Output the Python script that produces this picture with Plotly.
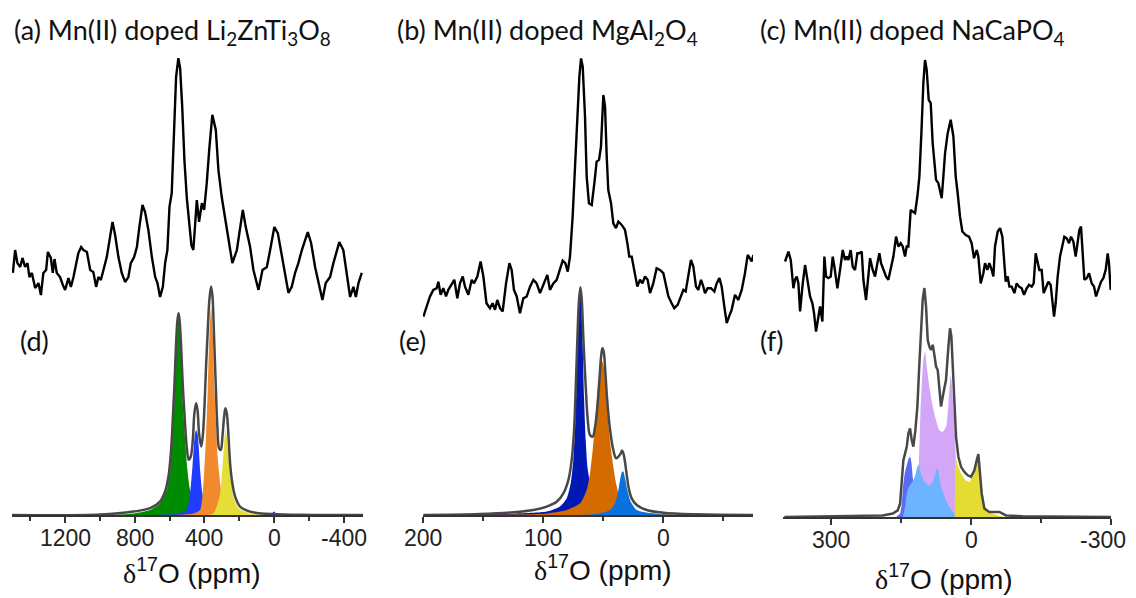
import plotly.graph_objects as go

# (a) top spectrum, Li2ZnTi3O8
a_ppm = [1500, 1487, 1474, 1458, 1445, 1430, 1416, 1405, 1391, 1372,
         1353, 1339, 1325, 1309, 1299, 1282, 1271, 1261, 1248, 1229,
         1213, 1200, 1181, 1167, 1152, 1137, 1124, 1108, 1095, 1075,
         1056, 1038, 1022, 1009, 995, 980, 961, 942, 928, 913,
         894, 875, 856, 837, 823, 804, 788, 774, 756, 741,
         722, 702, 683, 670, 655, 639, 626, 613, 601, 588,
         574, 563, 550, 540, 528, 515, 501, 488, 475, 464,
         444, 431, 415, 402, 387, 373, 355, 335, 320, 301,
         282, 263, 240, 214, 195, 180, 163, 138, 119, 90,
         67, 42, 23, -1, -21, -44, -63, -82, -101, -120,
         -139, -159, -193, -212, -235, -254, -277, -296, -321, -340,
         -360, -374, -397, -417, -436, -455, -469, -484, -503]
a_int = [20.9, 29.3, 24.5, 23.1, 26.4, 23.1, 24.5, 19.4, 20.9, 15.4,
         17.2, 12.8, 20.9, 22.0, 28.6, 26.4, 20.9, 26.0, 20.9, 19.4,
         16.5, 14.7, 19.0, 15.8, 19.4, 24.5, 28.2, 30.4, 29.3, 28.6,
         22.0, 21.2, 15.8, 19.4, 18.3, 22.0, 26.7, 34.1, 39.6, 34.8,
         26.7, 20.9, 17.6, 19.4, 24.5, 26.7, 30.4, 37.7, 45.8, 43.2,
         36.6, 26.7, 19.4, 17.2, 12.1, 15.8, 24.5, 29.3, 45.1, 50.2,
         72.2, 92.7, 99.6, 96.0, 82.0, 62.0, 48.0, 38.0, 31.0, 29.3,
         47.6, 39.6, 46.5, 44.0, 53.8, 65.9, 78.8, 73.3, 58.6, 48.7,
         41.4, 33.0, 24.5, 29.3, 36.6, 44.0, 37.7, 30.4, 22.0, 14.7,
         22.0, 23.1, 29.3, 37.7, 35.5, 26.7, 19.4, 13.6, 15.8, 20.9,
         24.5, 29.3, 35.9, 31.9, 23.1, 17.2, 11.0, 17.2, 19.4, 24.5,
         29.3, 32.2, 29.3, 19.4, 12.1, 15.8, 12.1, 17.2, 20.9]

# (b) top spectrum, MgAl2O4
b_ppm = [199.7, 196.9, 194.2, 191.4, 188.6, 187.2, 185.3, 183.1, 180.8, 178.9,
         176.1, 173.9, 171.4, 169.2, 166.9, 165.0, 162.2, 159.4, 157.5, 154.7,
         152.0, 149.7, 147.1, 144.2, 142.0, 140.0, 138.1, 135.8, 133.6, 130.8,
         128.0, 126.1, 124.2, 121.9, 119.2, 116.4, 113.6, 110.8, 108.0, 105.3,
         102.5, 99.2, 96.4, 94.2, 91.4, 88.6, 85.8, 83.6, 81.4, 79.4,
         77.5, 75.3, 73.3, 71.4, 69.7, 68.3, 66.9, 65.0,
         63.6, 61.7, 59.4, 57.2, 55.3, 53.3, 51.7, 49.7, 48.3, 46.9,
         45.6, 43.3, 41.4, 39.2, 37.2, 34.4, 31.7, 29.7, 28.1, 26.1,
         23.9, 21.4, 19.2, 17.2, 15.0, 12.8, 10.8, 8.1, 5.3, 2.5,
         -0.3, -2.5, -4.5, -7.2, -9.4, -12.2, -15.0, -17.0, -18.9, -21.1,
         -23.3, -25.3, -27.5, -29.4, -31.7, -33.6, -35.0, -37.2, -40.0, -42.8,
         -44.7, -47.0, -48.9, -51.1, -53.1, -55.0, -57.2, -60.0, -62.8, -65.6,
         -68.3, -70.6, -72.5, -73.9, -75.3]
b_int = [4.9, 8.6, 12.3, 14.7, 15.3, 17.7, 12.9, 15.3, 12.3, 14.7,
         17.1, 18.4, 11.6, 17.1, 19.6, 15.9, 12.9, 18.4, 17.1, 19.6,
         25.1, 19.6, 9.8, 8.0, 9.8, 7.4, 11.0, 8.0, 6.8, 17.1,
         24.5, 22.0, 14.7, 12.3, 6.1, 11.6, 12.3, 15.9, 18.4, 17.1,
         13.5, 17.1, 20.2, 14.7, 17.1, 18.4, 22.0, 25.4, 24.5, 21.4,
         26.9, 41.5, 59.9, 78.2, 92.8, 99.5, 96.5, 78.2,
         56.2, 46.4, 45.8, 53.8, 61.7, 62.3, 67.2, 86.1, 81.8, 63.5,
         51.3, 46.4, 39.1, 37.3, 39.7, 38.5, 36.7, 31.8, 26.9, 26.9,
         22.0, 15.9, 18.4, 17.1, 19.6, 18.4, 13.5, 17.1, 22.6, 22.0,
         20.8, 15.9, 12.3, 9.8, 8.0, 9.2, 12.9, 14.7, 14.1, 20.8,
         25.7, 23.2, 15.9, 14.7, 18.4, 15.9, 13.5, 15.3, 15.3, 14.1,
         17.1, 19.0, 15.9, 8.6, 2.5, 4.9, 7.4, 12.9, 11.0, 14.7,
         20.8, 27.5, 26.3, 25.1, 27.5]

# (c) top spectrum, NaCaPO4
c_ppm = [398.6, 391.4, 386.4, 380.7, 377.2, 373.6, 370.0, 366.4, 360.7, 355.7,
         350.7, 345.0, 340.0, 336.4, 332.2, 327.2, 323.6, 318.6, 314.3, 310.7,
         305.7, 300.7, 296.4, 292.9, 286.4, 280.7, 275.0, 270.0, 266.4, 262.9,
         257.9, 253.6, 248.6, 243.6, 239.3, 234.3, 230.7, 225.0, 221.4, 216.4,
         210.7, 205.7, 200.7, 196.4, 192.9, 187.9, 182.2, 177.2, 172.2, 166.4,
         160.7, 155.7, 150.7, 146.4, 141.4, 137.9, 134.3, 129.3, 125.0, 120.0,
         115.0, 110.7, 106.4, 102.2, 98.6, 95.0, 90.7, 86.4, 82.2, 78.6,
         75.0, 70.0, 66.4, 62.9, 59.3, 55.7,
         50.0, 43.6, 37.8, 32.8, 28.6, 23.6, 18.6, 11.4, 4.3, -1.4,
         -6.4, -12.2, -15.7, -20.7, -26.4, -30.0, -35.0, -39.3, -44.3, -47.9,
         -51.4, -57.2, -62.2, -67.2, -71.4, -74.3, -78.6, -82.2, -87.2, -92.9,
         -97.9, -102.9, -108.6, -113.6, -119.3, -124.3, -130.0, -134.3, -138.6, -142.9,
         -146.4, -151.4, -155.7, -160.0, -165.7, -170.7, -174.3, -177.9, -181.4, -185.7,
         -190.7, -195.7, -200.0, -205.0, -210.0, -214.3, -219.3, -224.3, -228.6, -232.2,
         -235.7, -239.3, -242.9, -247.9, -252.9, -258.6, -263.6, -267.9, -272.9, -278.6,
         -283.6, -288.6, -292.9, -295.7, -299.3]
c_int = [25.1, 28.7, 25.7, 15.3, 18.4, 19.6, 17.1, 6.8, 17.1, 23.8,
         18.4, 12.3, 9.8, 6.1, -0.6, 4.9, 8.6, 3.1, 26.9, 19.6,
         19.0, 19.6, 26.9, 23.2, 15.3, 22.0, 29.3, 25.7, 26.9, 25.7,
         29.3, 23.2, 22.0, 28.1, 28.1, 28.7, 18.4, 11.0, 17.1, 26.3,
         22.0, 19.6, 24.5, 28.1, 24.5, 22.0, 19.6, 18.4, 22.0, 26.9,
         34.2, 30.6, 31.8, 30.6, 26.9, 30.6, 30.6, 44.0, 43.4, 42.8,
         48.9, 56.2, 72.1, 90.4, 98.9, 95.3, 84.3, 83.1, 68.4, 61.1,
         55.0, 53.8, 51.3, 48.3, 56.2, 64.7,
         72.1, 77.0, 70.9, 56.2, 50.1, 41.5, 36.1, 34.8, 34.2, 31.8,
         26.3, 29.3, 26.9, 17.1, 20.8, 24.5, 22.0, 24.5, 22.0, 19.6,
         30.6, 36.1, 37.3, 34.2, 24.5, 17.7, 19.6, 15.9, 15.9, 13.5,
         17.1, 15.9, 15.3, 12.9, 15.3, 16.5, 15.9, 17.1, 28.1, 24.5,
         22.0, 22.0, 13.5, 15.3, 17.7, 16.5, 9.8, 4.9, 9.8, 19.6,
         26.9, 30.6, 34.2, 33.6, 31.8, 34.2, 32.4, 26.9, 31.8, 36.7,
         37.9, 29.3, 18.4, 19.0, 20.8, 17.1, 15.9, 12.3, 14.7, 17.7,
         19.0, 22.0, 28.1, 24.5, 14.7]

# (d) fit, Li2ZnTi3O8
d_total_ppm = [1506, 999, 808, 712, 655, 626, 607, 593, 582, 572, 563, 555, 549, 544, 534,
               525, 513, 502, 490, 479, 467, 458, 448, 440, 431, 419, 410, 400, 391, 381,
               372, 362, 354, 345, 335, 326, 316, 306, 297, 287, 280, 272, 262, 253, 240,
               224, 196, 138, 43, -149, -512]
d_total = [0, 0.2, 1.5, 3.0, 5.9, 10.3, 16.8, 27.1, 41.7, 57.8, 75.3, 85.6, 88.5, 86.3, 73.9,
           57.8, 41.7, 30.0, 24.2, 25.6, 32.9, 44.6, 49.0, 46.1, 35.8, 30.0, 34.4, 47.5, 65.1, 81.2,
           94.3, 100.2, 95.8, 78.2, 56.3, 38.8, 29.3, 28.5, 34.4, 43.2, 46.8, 44.6, 34.4, 22.7, 13.9,
           8.1, 3.7, 1.5, 0.5, 0.1, 0]
d_green_ppm = [942, 808, 712, 655, 616, 597, 584, 574, 565, 557, 549, 542, 532, 523, 511,
               498, 483, 454, 406, 310, 138]
d_green = [0, 0.7, 2.2, 5.1, 11.0, 19.7, 32.9, 47.5, 66.5, 81.2, 87.7, 81.2, 66.5, 47.5, 32.9,
           19.7, 11.0, 5.1, 2.2, 0.7, 0]
d_blue_ppm = [712, 540, 502, 483, 469, 460, 454, 448, 440, 433, 425, 412, 387, 329, 234,
              43, 14, 0, -15, -53]
d_blue = [0, 0.7, 2.2, 9.5, 21.2, 31.5, 35.8, 37.3, 35.8, 30.0, 19.7, 9.5, 3.0, 0.7, 0.2,
          0, 0.7, 1.5, 0.4, 0]
d_orange_ppm = [578, 463, 425, 412, 402, 391, 381, 372, 362, 352, 343, 333, 326, 316, 301,
                272, 196, 43]
d_orange = [0, 0.7, 2.2, 8.1, 18.3, 34.4, 54.9, 78.2, 91.4, 78.2, 54.9, 38.8, 27.1, 18.3, 9.5,
            3.7, 0.7, 0]
d_yellow_ppm = [387, 349, 330, 310, 297, 287, 280, 272, 262, 249, 234, 205, 138, 43]
d_yellow = [0, 0.7, 3.7, 9.5, 21.2, 31.5, 37.3, 34.4, 25.6, 15.4, 8.1, 3.0, 0.7, 0]

# (e) fit, MgAl2O4
e_total_ppm = [199.7, 152.5, 124.7, 108.0, 96.9, 88.6, 83.0, 78.8, 76.1, 74.1, 72.5, 71.1, 70.0,
               68.8, 67.7, 66.3, 64.4, 62.7, 60.8, 58.6, 56.6, 54.7, 53.0, 51.6, 50.5, 49.4,
               48.0, 46.3, 44.1, 41.4, 39.1, 37.2, 35.2, 34.1, 33.0, 31.6, 30.2, 28.8, 26.1,
               21.9, 13.6, -0.3, -28.1, -75.3]
e_total = [0, 0.4, 1.2, 2.2, 3.7, 5.8, 9.5, 15.4, 24.1, 37.3, 59.2, 81.1, 94.3,
           99.9, 94.3, 76.7, 56.3, 41.7, 35.1, 34.4, 38.7, 47.5, 59.2, 69.4, 73.1, 71.6,
           62.1, 49.0, 37.3, 28.5, 24.9, 25.6, 27.0, 28.3, 27.0, 23.0, 17.5, 12.4, 7.3,
           4.4, 2.2, 1.0, 0.3, 0]
e_navy_ppm = [199.7, 124.7, 96.9, 85.8, 80.2, 76.9, 74.7, 73.0, 71.9, 70.8, 69.7, 68.8, 68.0,
              66.9, 65.8, 64.4, 63.0, 61.3, 59.4, 55.2, 41.4, -0.3]
e_navy = [0, 0.6, 1.5, 3.7, 7.3, 13.9, 24.1, 41.7, 59.2, 81.1, 95.8, 98.0, 91.4,
          73.8, 51.9, 32.9, 21.2, 15.4, 8.1, 3.0, 0.7, 0]
e_orange_ppm = [152.5, 96.9, 80.2, 69.1, 63.6, 60.8, 58.6, 56.6, 54.7, 53.0, 51.6, 50.5, 49.4,
                47.7, 45.8, 43.6, 41.4, 39.1, 36.4, 31.6, 21.9, -0.3, -42.0]
e_orange = [0, 0.7, 2.2, 5.1, 11.0, 18.3, 28.5, 40.2, 53.4, 62.1, 66.5, 67.3, 65.1,
            54.8, 41.7, 30.0, 21.2, 13.9, 8.1, 3.7, 1.5, 0.4, 0]
e_sky_ppm = [69.1, 52.5, 44.1, 40.0, 37.7, 35.8, 34.1, 33.0, 31.6, 29.7, 26.9, 21.9, 8.0, -14.2]
e_sky = [0, 0.7, 2.2, 5.1, 9.5, 15.4, 19.0, 19.0, 16.1, 11.0, 5.8, 2.2, 0.6, 0]

# (f) fit, NaCaPO4
f_total_ppm = [400.0, 246.4, 189.3, 167.8, 157.1, 152.1, 148.6, 145.0, 141.4, 137.8, 134.3,
               130.7, 127.1, 123.6, 119.3, 115.0, 110.7, 106.4, 103.6, 100.0, 96.4, 92.8,
               89.3, 85.7, 82.1, 78.6, 75.0, 71.4, 67.8, 64.3, 59.3, 53.6, 48.5, 45.0, 42.1,
               39.3, 35.7, 32.1, 27.1, 21.4, 14.3, 7.1, 0.0, -7.2, -12.2, -15.7, -19.3,
               -22.9, -28.6, -39.3, -60.7, -67.9, -75.0, -110.7, -300.0]
f_total = [0, 0.3, 0.7, 1.5, 2.9, 5.8, 16.1, 24.8, 27.7, 30.7, 36.5,
           38.7, 33.6, 30.7, 37.9, 48.2, 67.1, 84.6, 94.8, 100.0, 91.9, 77.3,
           74.4, 73.0, 75.2, 70.8, 65.7, 64.2, 55.5, 48.2, 54.0, 59.9, 74.4, 82.4, 78.8,
           67.1, 55.5, 35.0, 26.3, 21.9, 19.7, 18.2, 17.5, 20.4, 24.8, 27.5, 19.0,
           10.2, 3.7, 2.2, 2.2, 1.5, 0.7, 0.3, 0]
f_purple_ppm = [125.0, 117.9, 112.9, 108.5, 105.0, 101.4, 98.6, 95.0, 89.3, 82.1, 75.0, 67.8,
                60.7, 53.6, 50.0, 46.4, 43.5, 40.7, 37.1, 33.5, 30.0, 21.4, 3.6, -7.2, -14.3, -25.0]
f_purple = [0, 1.5, 16.1, 45.2, 59.9, 70.0, 72.2, 65.7, 56.9, 48.2, 42.3, 37.9,
            37.2, 39.4, 45.2, 55.5, 62.0, 56.9, 45.2, 30.7, 16.1, 8.8, 5.8, 2.9, 1.5, 0]
f_blue_ppm = [160.7, 152.1, 148.6, 145.7, 142.1, 137.8, 133.5, 130.7, 127.9, 125.0, 120.7,
              114.3, 103.6, 82.1]
f_blue = [0, 1.5, 5.8, 13.1, 19.0, 22.6, 25.5, 26.3, 24.1, 17.5, 10.2, 4.4, 1.5, 0]
f_sky_ppm = [146.4, 141.4, 137.8, 133.5, 128.6, 123.6, 119.3, 115.0, 112.1, 109.3, 103.6, 96.4,
             89.3, 82.1, 77.1, 73.6, 70.7, 67.1, 62.1, 55.0, 46.4, 35.7, 17.9, -10.7]
f_sky = [0, 4.4, 10.2, 13.1, 14.6, 16.1, 18.3, 21.9, 22.9, 20.4, 16.8, 14.6,
         13.9, 15.3, 18.3, 21.2, 20.4, 16.1, 11.9, 8.0, 4.4, 1.5, 0.3, 0]
f_yellow_ppm = [35.0, 34.3, 28.6, 21.4, 12.1, 3.6, -3.6, -10.7, -15.7, -19.3, -23.6, -28.6,
                -39.3, -53.6, -71.4]
f_yellow = [0, 27.7, 22.6, 19.0, 16.1, 15.3, 17.5, 21.9, 27.0, 20.4, 11.7, 4.4, 1.8, 1.0, 0]

# tick labels (hyphen minus, as in the original)
tickvals = [[1200, 800, 400, 0, -400], [200, 100, 0], [300, 0, -300]]
ticktext = [['1200', '800', '400', '0', '-400'], ['200', '100', '0'], ['300', '0', '-300']]

W, H = 1136, 598
PAGE_OFFSET = 8   # the page body margin pushes the plot 8px right and down
AXIS_COLOR = '#333333'
FIT_LINE = '#484848'


def px_x(p):
    return (p - PAGE_OFFSET) / W


def px_y(p):
    return 1 - (p - PAGE_OFFSET) / H


def add_line(fig, x, y, n, color, width, shape='linear'):
    fig.add_trace(go.Scatter(x=x, y=y, xaxis='x' + str(n), yaxis='y' + str(n), mode='lines',
                             line=dict(color=color, width=width, shape=shape),
                             hoverinfo='skip', showlegend=False))


def add_fill(fig, x, y, n, color, shape='spline'):
    fig.add_trace(go.Scatter(x=x, y=y, xaxis='x' + str(n), yaxis='y' + str(n), mode='lines',
                             fill='tozeroy', fillcolor=color,
                             line=dict(color=color, width=0, shape=shape, smoothing=0.6),
                             hoverinfo='skip', showlegend=False))


def main():
    fig = go.Figure()

    # bottom panels (fits): axes 1-3, top panels (spectra): axes 4-6
    add_fill(fig, d_green_ppm, d_green, 1, '#008c00')
    add_fill(fig, d_blue_ppm, d_blue, 1, '#1f3cff')
    add_fill(fig, d_orange_ppm, d_orange, 1, '#f08a2c')
    add_fill(fig, d_yellow_ppm, d_yellow, 1, '#e6de38')
    add_line(fig, d_total_ppm, d_total, 1, FIT_LINE, 2.5, 'spline')

    add_fill(fig, e_navy_ppm, e_navy, 2, '#0019b5')
    add_fill(fig, e_orange_ppm, e_orange, 2, '#d46b00')
    add_fill(fig, e_sky_ppm, e_sky, 2, '#0a72de')
    add_line(fig, e_total_ppm, e_total, 2, FIT_LINE, 2.5, 'spline')

    add_fill(fig, f_purple_ppm, f_purple, 3, '#d3a6f7')
    add_fill(fig, f_blue_ppm, f_blue, 3, '#5b6cf2')
    add_fill(fig, f_sky_ppm, f_sky, 3, '#6cb4ff')
    add_fill(fig, f_yellow_ppm, f_yellow, 3, '#e4dc32', 'linear')
    add_line(fig, f_total_ppm, f_total, 3, FIT_LINE, 2.5)

    add_line(fig, a_ppm, a_int, 4, '#000000', 2.4)
    add_line(fig, b_ppm, b_int, 5, '#000000', 2.4)
    add_line(fig, c_ppm, c_int, 6, '#000000', 2.4)

    cols = [(12, 363), (423, 753), (783, 1111)]
    ranges = [[1505, -510], [200, -75], [403, -300]]
    minor_dt = [200, 50, 150]
    baselines = [515, 515, 517]
    peak_px = [287, 287, 288]

    layout = dict(template='none', width=W, height=H,
                  margin=dict(l=0, r=0, t=0, b=0, autoexpand=False),
                  paper_bgcolor='white', plot_bgcolor='rgba(0,0,0,0)', showlegend=False)

    for i in range(3):
        dom = [px_x(cols[i][0]), px_x(cols[i][1])]
        n = i + 1
        key = '' if n == 1 else str(n)
        layout['xaxis' + key] = dict(
            domain=dom, range=ranges[i], anchor='y' + key, automargin=False, showline=True,
            linecolor=AXIS_COLOR, linewidth=1.6, ticks='outside', ticklen=6, tickwidth=1.6,
            tickcolor=AXIS_COLOR, tickmode='array', tickvals=tickvals[i], showticklabels=False,
            showgrid=False, zeroline=False,
            minor=dict(tickmode='linear', tick0=0, dtick=minor_dt[i], ticks='outside', ticklen=4,
                       tickwidth=1.6, tickcolor=AXIS_COLOR, showgrid=False))
        top = 275
        rng_top = 100 * (baselines[i] - top) / (baselines[i] - peak_px[i])
        layout['yaxis' + key] = dict(domain=[px_y(baselines[i]), px_y(top)], range=[0, rng_top],
                                     anchor='x' + key, visible=False, automargin=False)
        # spectra above
        m = i + 4
        layout['xaxis' + str(m)] = dict(domain=dom, range=ranges[i], anchor='y' + str(m),
                                        visible=False, automargin=False)
        layout['yaxis' + str(m)] = dict(domain=[px_y(345), px_y(45)], range=[-5.49, 104.4],
                                        anchor='x' + str(m), visible=False, automargin=False)

    fig.update_layout(**layout)

    # tick labels placed on the data axis, a bit closer to the line than plotly's default
    tick_font = dict(family='Liberation Sans, Arial', size=23, color='#222222')
    for i in range(3):
        xref = 'x' if i == 0 else 'x' + str(i + 1)
        for v, t in zip(tickvals[i], ticktext[i]):
            # the last label sits on the right page edge, nudge it inside
            shift = -8 if (i == 2 and v == tickvals[2][-1]) else 0
            fig.add_annotation(text=t, x=v, xref=xref, y=px_y(baselines[i] + 23), yref='paper',
                               xanchor='center', yanchor='middle', showarrow=False,
                               xshift=shift, font=tick_font)

    title_font = dict(family='Lato, Noto Sans', size=27, color='#111111')
    titles = ['(a) Mn(II) doped Li<sub>2</sub>ZnTi<sub>3</sub>O<sub>8</sub>',
              '(b) Mn(II) doped MgAl<sub>2</sub>O<sub>4</sub>',
              '(c) Mn(II) doped NaCaPO<sub>4</sub>']
    title_x = [12, 395, 758]
    for t, x in zip(titles, title_x):
        fig.add_annotation(text=t, x=px_x(x), y=px_y(32), xref='paper', yref='paper',
                           xanchor='left', yanchor='middle', showarrow=False, font=title_font)

    fit_labels = ['(d)', '(e)', '(f)']
    fit_x = [18, 397, 758]
    for t, x in zip(fit_labels, fit_x):
        fig.add_annotation(text=t, x=px_x(x), y=px_y(340), xref='paper', yref='paper',
                           xanchor='left', yanchor='middle', showarrow=False, font=title_font)

    xlabel = '<span style="font-family:Liberation Serif">δ</span><sup>17</sup>O (ppm)'
    label_pos = [(192, 571), (603, 568), (944, 577)]
    for x, y in label_pos:
        fig.add_annotation(text=xlabel, x=px_x(x), y=px_y(y), xref='paper', yref='paper',
                           xanchor='center', yanchor='middle', showarrow=False,
                           font=dict(family='Liberation Sans, Arial', size=28, color='#111111'))

    fig.write_html('out.html')


if __name__ == '__main__':
    main()
